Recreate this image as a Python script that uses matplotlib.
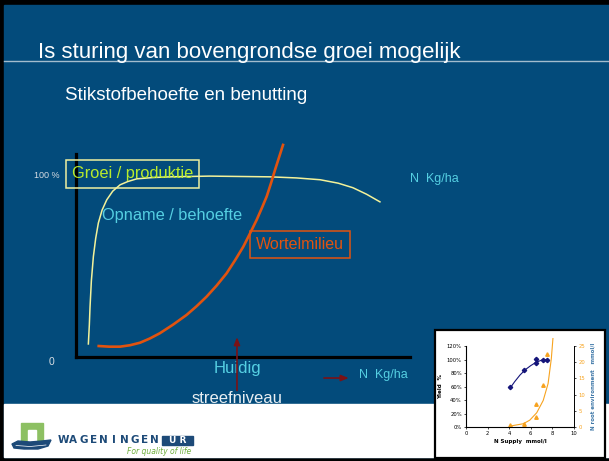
import numpy as np
import matplotlib.pyplot as plt
from matplotlib.patches import Rectangle, Polygon

W, H = 609, 461

# main sketch: N supply (% of axis length) against response (%)
growth_n = [3.7, 4.0, 4.2, 4.6, 5.2, 5.9, 6.7, 7.8, 9.2, 11.0, 13.2, 15.5, 18.2,
            23.0, 28.1, 40.0, 58.1, 66.0, 73.1, 78.5, 82.9, 87.0, 91.0]
growth_resp = [7.2, 18.0, 27.6, 42.0, 55.4, 65.5, 74.0, 81.0, 86.7, 91.5, 95.0, 96.8, 98.3,
               99.0, 99.4, 99.8, 99.4, 98.8, 97.8, 95.9, 93.4, 89.8, 85.6]
root_n = [6.4, 10.0, 13.2, 16.2, 19.2, 22.1, 25.1, 29.1, 33.1, 36.1, 39.1, 42.1,
          45.1, 47.6, 50.1, 52.1, 54.1, 55.6, 57.1, 58.4, 59.6, 62.1]
root_resp = [6.1, 5.7, 5.7, 6.5, 7.9, 10.2, 13.1, 17.9, 23.2, 28.0, 33.3, 39.4,
             46.2, 53.3, 60.9, 68.2, 75.7, 82.0, 88.6, 96.0, 103.3, 117.7]
current_n = 48.2

# inset: yield and root environment against N supply
supply = [4.1, 5.4, 6.5, 6.5, 7.1, 7.5]
yield_pct = [59, 84, 95, 101, 99, 100]
root_env = [0.5, 0.9, 7.2, 3.1, 12.9, 22.6]
yield_fit_x = [4.1, 4.5, 5.0, 5.5, 6.0, 6.5, 7.0, 7.5]
yield_fit_y = [58, 67, 77, 85, 91, 96, 99, 100]
root_fit_x = [4.1, 5.3, 5.9, 6.55, 7.15, 7.6, 7.9, 8.05]
root_fit_y = [0.3, 1.0, 2.1, 4.4, 8.2, 13.4, 21.1, 27.3]

blue = '#034b7b'
cyan = '#55cfe2'
orange = '#e2530f'
sans = ['Liberation Sans', 'DejaVu Sans']


def box(x0, y0, x1, y1):
    return [x0 / W, 1 - y1 / H, (x1 - x0) / W, (y1 - y0) / H]


fig = plt.figure(figsize=(W / 100, H / 100), dpi=100, facecolor='black')

# slide background
bg = fig.add_axes([0, 0, 1, 1], zorder=0)
bg.set_xlim(0, W)
bg.set_ylim(H, 0)
bg.axis('off')
bg.add_patch(Rectangle((4, 5), W - 4, 452, color=blue))
bg.plot([4, W], [61, 61], color='#a3bccd', lw=1)
bg.text(38, 58, 'Is sturing van bovengrondse groei mogelijk', color='white',
        fontsize=16, family=sans, va='baseline')
bg.text(65, 100, 'Stikstofbehoefte en benutting', color='white',
        fontsize=13.5, family=sans, va='baseline')

# main sketch
ax = fig.add_axes(box(76, 154, 410, 357), zorder=1)
ax.set_facecolor('none')
ax.set_xlim(0, 100)
ax.set_ylim(0, 112)
for s in ['top', 'right']:
    ax.spines[s].set_visible(False)
for s in ['left', 'bottom']:
    ax.spines[s].set_linewidth(2.3)
    ax.spines[s].set_color('black')
ax.set_xticks([])
ax.set_yticks([])
ax.plot(growth_n, growth_resp, color='#f3f29a', lw=1.1, clip_on=False)
ax.plot(root_n, root_resp, color=orange, lw=1.9, clip_on=False, solid_capstyle='butt')

ax.text(-5, 100, '100 %', color='#d7dde3', fontsize=6.5, family=sans,
        ha='right', va='center')
ax.text(-6.5, -3, '0', color='#d7dde3', fontsize=7.5, family=sans,
        ha='right', va='center')
ax.text(-1.2, 101, 'Groei / produktie', color='#b9ec2c', fontsize=11.8, family=sans,
        va='center',
        bbox=dict(boxstyle='square,pad=0.38', fc='none', ec='#eef0a0', lw=1.1))
ax.text(7.8, 78, 'Opname / behoefte', color=cyan, fontsize=11.8, family=sans,
        va='center')
ax.text(53.9, 62, 'Wortelmilieu', color=orange, fontsize=11.5, family=sans,
        va='center',
        bbox=dict(boxstyle='square,pad=0.38', fc='none', ec=orange, lw=1.1))
ax.text(100, 98.3, 'N  Kg/ha', color=cyan, fontsize=9, family=sans, va='center')
ax.text(84.7, -9.9, 'N  Kg/ha', color=cyan, fontsize=9, family=sans, va='center')
ax.text(current_n, -6.1, 'Huidig', color=cyan, fontsize=12, family=sans,
        ha='center', va='center')
ax.text(current_n, -23, 'streefniveau', color='#e8eef2', fontsize=12, family=sans,
        ha='center', va='center')
ax.annotate('', xy=(current_n, 12.5), xytext=(current_n, -20), annotation_clip=False,
            arrowprops=dict(arrowstyle='-|>,head_length=0.45,head_width=0.18',
                            color='#7a1216', lw=1.2))
ax.annotate('', xy=(82.5, -11.6), xytext=(73.4, -11.6), annotation_clip=False,
            arrowprops=dict(arrowstyle='-|>,head_length=0.45,head_width=0.18',
                            color='#7a1216', lw=1.2))

# footer with logo and the inset frame
ov = fig.add_axes([0, 0, 1, 1], zorder=2)
ov.set_facecolor('none')
ov.set_xlim(0, W)
ov.set_ylim(H, 0)
ov.axis('off')
ov.add_patch(Rectangle((4, 404), W - 4, 53, color='white'))
ov.add_patch(Rectangle((21, 423), 22, 19, color='#8dc063'))
ov.add_patch(Rectangle((28, 430), 8, 12, color='white'))
ov.add_patch(Polygon([(12, 444), (18, 441), (30, 442), (42, 441), (51, 440),
                      (48, 446), (38, 449), (24, 449), (14, 448)], color='#1d4a78'))
ov.plot([16, 30, 46], [445.5, 446.5, 445], color='white', lw=0.5)
for i, ch in enumerate('WAGENINGEN'):
    ov.text(63 + i * 10.2, 440, ch, color='#1d4a78', fontsize=7.5, weight='bold',
            ha='center', va='center')
ov.add_patch(Rectangle((162, 436), 31, 9, color='#1d4a78'))
ov.text(177.5, 440.5, 'U R', color='white', fontsize=6.5, weight='bold',
        ha='center', va='center')
ov.text(159, 451, 'For quality of life', color='#6fae3c', fontsize=5.5,
        style='italic', ha='center', va='center')
ov.add_patch(Rectangle((435, 330), 170, 128, fc='white', ec='black', lw=1.6))

# inset chart
ins = fig.add_axes(box(466, 346, 574, 427), zorder=3)
ins.set_facecolor('none')
ins.plot(yield_fit_x, yield_fit_y, color='#15157a', lw=0.8)
ins.plot(supply, yield_pct, 'D', color='#15157a', ms=2.2)
ins.set_xlim(0, 10)
ins.set_ylim(0, 120)
ins.set_xticks(range(0, 11, 2))
ins.set_yticks(range(0, 121, 20))
ins.set_yticklabels([f'{v}%' for v in range(0, 121, 20)])
ins.tick_params(labelsize=3.8, length=1.5, width=0.5, pad=1.5)
ins.set_xlabel('N Supply  mmol/l', fontsize=4, weight='bold', labelpad=2)
ins.set_ylabel('Yield  %', fontsize=4, weight='bold', labelpad=3)
for s in ins.spines.values():
    s.set_linewidth(0.6)
ins.spines['top'].set_visible(False)

ins2 = ins.twinx()
ins2.plot(root_fit_x, root_fit_y, color='#f7a31f', lw=0.8, clip_on=False)
ins2.plot(supply, root_env, '^', color='#f7a31f', ms=2.5)
ins2.set_ylim(0, 25)
ins2.set_yticks(range(0, 26, 5))
ins2.tick_params(labelsize=3.8, length=1.5, width=0.5, pad=1.5, colors='black',
                 labelcolor='#f7a31f')
ins2.set_ylabel('N root environment   mmol/l', fontsize=4, weight='bold',
                color='#3f78a8', labelpad=4, rotation=90)
ins2.spines['right'].set_linewidth(0.6)
ins2.spines['top'].set_visible(False)

fig.savefig('out.png', dpi=100, facecolor='black')
